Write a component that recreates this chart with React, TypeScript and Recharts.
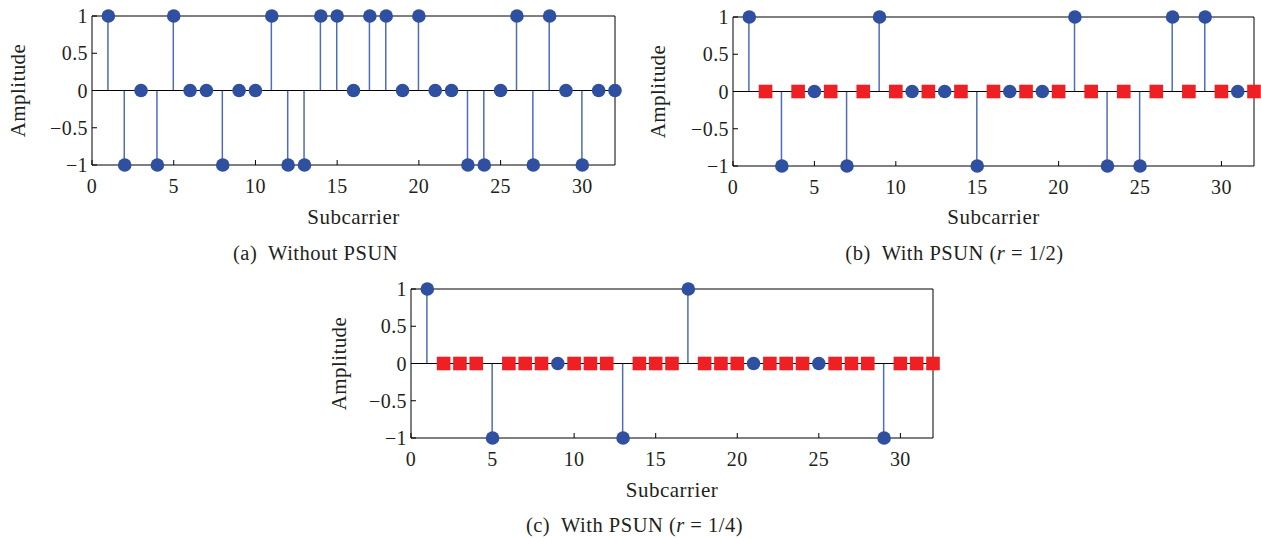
import React from "react";
import {
  ComposedChart,
  Bar,
  Scatter,
  XAxis,
  YAxis,
  ReferenceLine,
} from "recharts";

// subcarrier index 1..32
const subcarriers = [
  1, 2, 3, 4, 5, 6, 7, 8, 9, 10, 11, 12, 13, 14, 15, 16,
  17, 18, 19, 20, 21, 22, 23, 24, 25, 26, 27, 28, 29, 30, 31, 32,
];

// (a) without PSUN
const ampA = [
  1, -1, 0, -1, 1, 0, 0, -1, 0, 0, 1, -1, -1, 1, 1, 0,
  1, 1, 0, 1, 0, 0, -1, -1, 0, 1, -1, 1, 0, -1, 0, 0,
];
const nullsA: number[] = [];

// (b) with PSUN r = 1/2
const ampB = [
  1, 0, -1, 0, 0, 0, -1, 0, 1, 0, 0, 0, 0, 0, -1, 0,
  0, 0, 0, 0, 1, 0, -1, 0, -1, 0, 1, 0, 1, 0, 0, 0,
];
const nullsB = [2, 4, 6, 8, 10, 12, 14, 16, 18, 20, 22, 24, 26, 28, 30, 32];

// (c) with PSUN r = 1/4
const ampC = [
  1, 0, 0, 0, -1, 0, 0, 0, 0, 0, 0, 0, -1, 0, 0, 0,
  1, 0, 0, 0, 0, 0, 0, 0, 0, 0, 0, 0, -1, 0, 0, 0,
];
const nullsC = [
  2, 3, 4, 6, 7, 8, 10, 11, 12, 14, 15, 16, 18, 19, 20,
  22, 23, 24, 26, 27, 28, 30, 31, 32,
];

const xTicks = [0, 5, 10, 15, 20, 25, 30];
const yTicks = [-1, -0.5, 0, 0.5, 1];

const BLUE = "#2f4fa0";
const STEM = "#4d6db8";
const RED = "#ee2024";
const FONT = "'Liberation Serif', 'DejaVu Serif', serif";

const W = 640;
const H = 200;

const fmtY = (v: number) => (v < 0 ? "\u2212" + Math.abs(v) : String(v));

function Circle(p: any) {
  if (p.cx == null || p.cy == null) return <g />;
  return <circle cx={p.cx} cy={p.cy} r={6.8} fill={BLUE} />;
}

function Square(p: any) {
  if (p.cx == null || p.cy == null) return <g />;
  return <rect x={p.cx - 6.8} y={p.cy - 6.8} width={13.6} height={13.6} fill={RED} />;
}

interface PanelProps {
  amp: number[];
  nulls: number[];
  left: number;
  top: number;
  plotLeft: number;
  plotRight: number;
  plotTop: number;
  plotBottom: number;
}

function StemPanel({ amp, nulls, left, top, plotLeft, plotRight, plotTop, plotBottom }: PanelProps) {
  const rows = subcarriers.map((k, i) => ({ k, amp: amp[i] }));
  const dataPts = rows.filter((r) => !nulls.includes(r.k)).map((r) => ({ k: r.k, v: r.amp }));
  const nullPts = rows.filter((r) => nulls.includes(r.k)).map((r) => ({ k: r.k, v: 0 }));

  const margin = {
    left: plotLeft - left - 50,
    right: left + W - plotRight - 1,
    top: plotTop - top - 1,
    bottom: top + H - plotBottom - 30,
  };
  const tickStyle = { fontSize: 20, fill: "#231f20", fontFamily: FONT, letterSpacing: 0.4 };

  return (
    <div style={{ position: "absolute", left, top, width: W, height: H }}>
      <ComposedChart width={W} height={H} data={rows} margin={margin}>
        <XAxis
          dataKey="k"
          type="number"
          domain={[0, 32]}
          ticks={xTicks}
          tickSize={-5}
          tickMargin={19}
          height={30}
          stroke="#000"
          tick={tickStyle}
        />
        <XAxis
          xAxisId="top"
          orientation="top"
          type="number"
          domain={[0, 32]}
          ticks={xTicks}
          tickSize={-5}
          height={1}
          stroke="#000"
          tick={false}
        />
        <YAxis
          type="number"
          domain={[-1, 1]}
          ticks={yTicks}
          tickSize={-5}
          tickMargin={9}
          width={50}
          stroke="#000"
          tick={tickStyle}
          tickFormatter={fmtY}
        />
        <YAxis
          yAxisId="right"
          orientation="right"
          type="number"
          domain={[-1, 1]}
          ticks={yTicks}
          tickSize={-5}
          width={1}
          stroke="#000"
          tick={false}
        />
        <ReferenceLine y={0} stroke="#000" strokeWidth={1} />
        <Bar dataKey="amp" barSize={1.5} fill={STEM} isAnimationActive={false} />
        <Scatter data={dataPts} dataKey="v" shape={Circle} isAnimationActive={false} />
        <Scatter data={nullPts} dataKey="v" shape={Square} isAnimationActive={false} />
      </ComposedChart>
    </div>
  );
}

function Txt({ x, y, size, children, rotate }: { x: number; y: number; size: number; children: React.ReactNode; rotate?: boolean }) {
  // x = horizontal centre, y = baseline (or centre when rotated)
  if (rotate) {
    return (
      <div
        style={{
          position: "absolute",
          left: x - 100,
          top: y - size / 2,
          width: 200,
          height: size,
          lineHeight: `${size}px`,
          fontSize: size,
          fontFamily: FONT,
          color: "#231f20",
          textAlign: "center",
          letterSpacing: 0.4,
          transform: "rotate(-90deg)",
          whiteSpace: "nowrap",
        }}
      >
        {children}
      </div>
    );
  }
  return (
    <div
      style={{
        position: "absolute",
        left: x - 200,
        top: y - size * 0.84,
        width: 400,
        height: size,
        lineHeight: `${size}px`,
        fontSize: size,
        fontFamily: FONT,
        color: "#231f20",
        textAlign: "center",
        letterSpacing: 0.5,
        whiteSpace: "pre",
      }}
    >
      {children}
    </div>
  );
}

export default function App() {
  return (
    <div style={{ position: "absolute", left: 0, top: 0, width: 1261, height: 538, background: "#fff", overflow: "hidden" }}>
      <StemPanel amp={ampA} nulls={nullsA} left={0} top={0} plotLeft={92} plotRight={615} plotTop={16} plotBottom={165} />
      <StemPanel amp={ampB} nulls={nullsB} left={640} top={0} plotLeft={733} plotRight={1254} plotTop={17} plotBottom={166} />
      <StemPanel amp={ampC} nulls={nullsC} left={320} top={270} plotLeft={411} plotRight={933} plotTop={289} plotBottom={438} />

      <Txt x={18} y={90} size={21} rotate>Amplitude</Txt>
      <Txt x={658} y={91} size={21} rotate>Amplitude</Txt>
      <Txt x={339} y={363} size={21} rotate>Amplitude</Txt>

      <Txt x={353.5} y={225} size={21}>Subcarrier</Txt>
      <Txt x={993.5} y={225} size={21}>Subcarrier</Txt>
      <Txt x={672} y={498} size={21}>Subcarrier</Txt>

      <Txt x={315.5} y={260} size={20.5}>(a)  Without PSUN</Txt>
      <Txt x={954.5} y={260} size={20.5}>
        (b)  With PSUN (<i>r</i> = 1/2)
      </Txt>
      <Txt x={634.5} y={532} size={20.5}>
        (c)  With PSUN (<i>r</i> = 1/4)
      </Txt>
    </div>
  );
}
